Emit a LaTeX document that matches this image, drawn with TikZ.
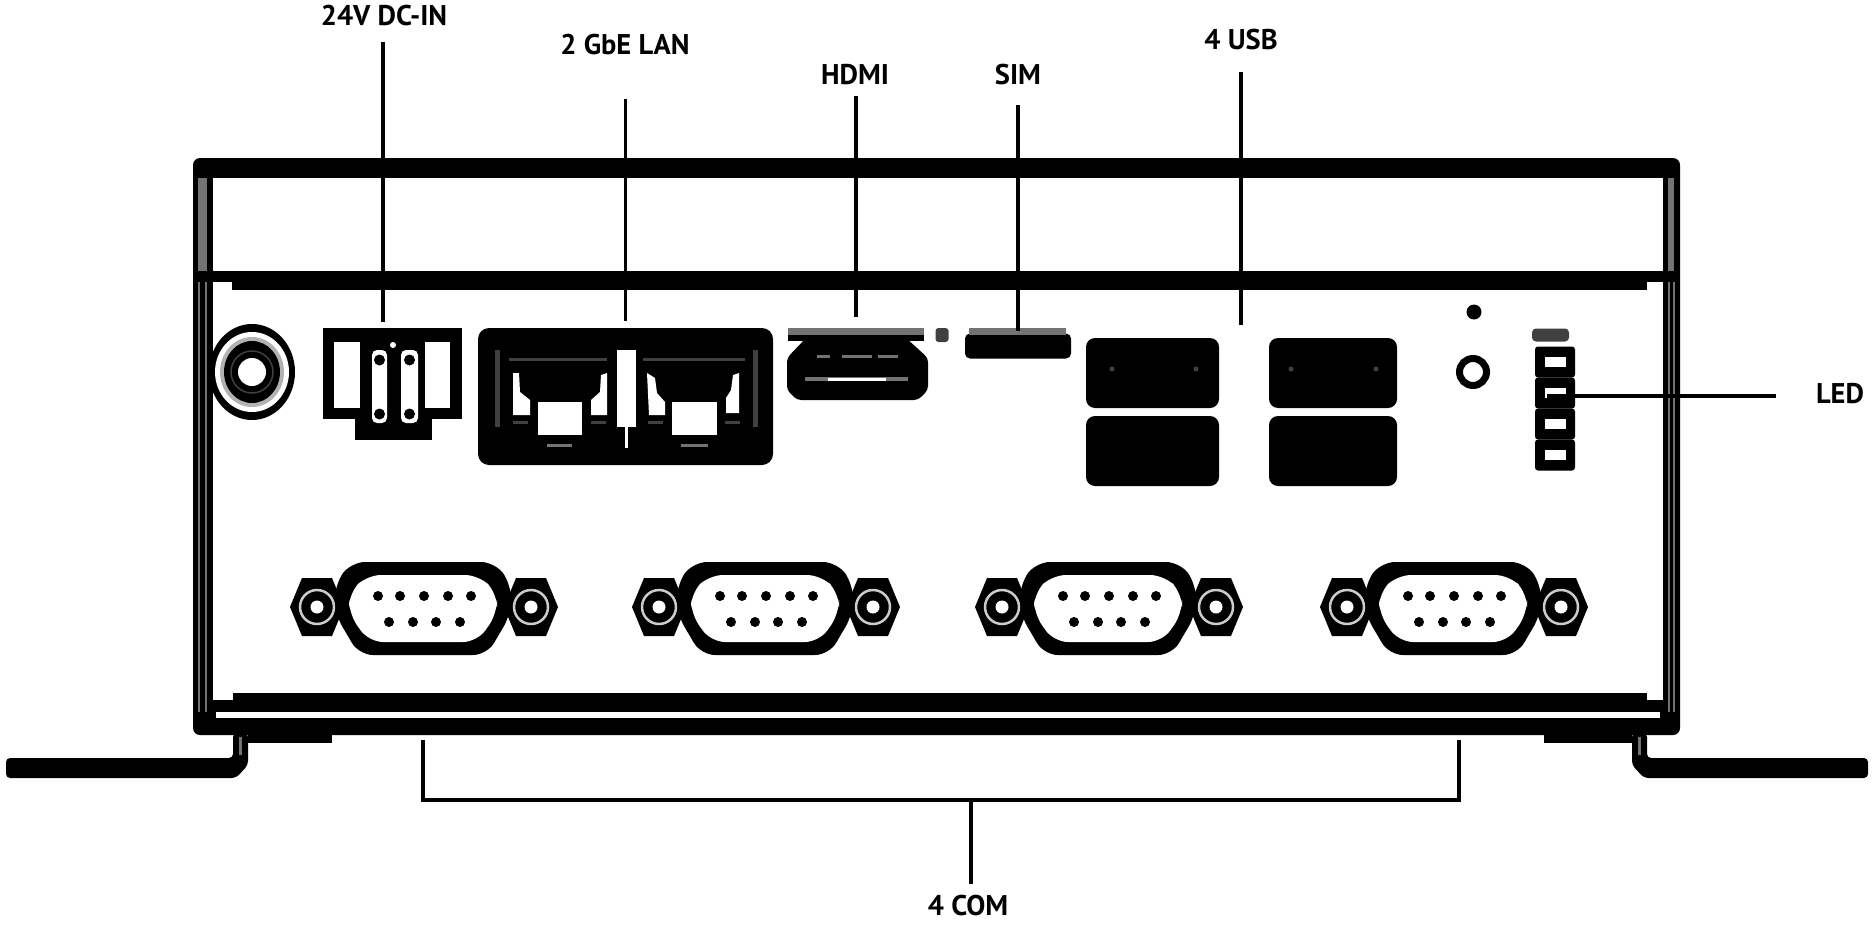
\documentclass[tikz,border=0pt]{standalone}
\usepackage{fontspec}
\setmainfont{PT Sans}
\usetikzlibrary{calc, positioning}
\definecolor{stripeGray}{gray}{0.45}
\definecolor{darkBar}{gray}{0.25}
\tikzset{
    portBlack/.style={rectangle, fill=black, inner sep=0pt, outer sep=0pt},
    portGray/.style={rectangle, fill=stripeGray, inner sep=0pt, outer sep=0pt},
    usbPort/.style={portBlack, minimum height=70pt, rounded corners=9pt},
    lblText/.style={inner sep=0pt, outer sep=0pt, font=\fontsize{28.5}{29}\selectfont\bfseries},
    leadLine/.style={line width=3.6pt, black},
}
% D-sub connector with its two nuts
\newcommand{\drawNut}[1]{
    \fill (#1) ++(-27,0) -- ++(12,-29) -- ++(30,0) -- ++(12,29) -- ++(-12,29) -- ++(-30,0) -- cycle;
    \draw[gray!40, line width=2.5pt] (#1) circle (17pt);
    \fill[white] (#1) circle (6.5pt);
}
\newcommand{\drawCom}[2]{
    \begin{scope}[shift={(#2,608)}]
        \drawNut{-106,-1}
        \drawNut{108,-1}
        \fill[rounded corners=14pt] (-72,-46) -- (72,-46) -- (88,-24) -- (88,6) -- (64,47) -- (-64,47) -- (-88,6) -- (-88,-24) -- cycle;
        \fill[white, rounded corners=14pt] (-56,-33) -- (56,-33) -- (74,-15) -- (74,6) -- (54,34) -- (-54,34) -- (-74,6) -- (-74,-15) -- cycle;
        \foreach \px in {-45,-23,1,25,48} { \fill (\px,-12) circle (5pt); }
        \foreach \px in {-34,-10,13,37} { \fill (\px,14) circle (5pt); }
        \coordinate (#1) at (0,0);
    \end{scope}
}
\newcommand{\drawLead}[3]{
    \draw[leadLine, #1] (#2) -- (#3);
}
\begin{document}
\begin{tikzpicture}[x=1pt, y=-1pt]
    \useasboundingbox (0,0) rectangle (1872,926);

    % housing
    \fill[rounded corners=7pt] (193,158) -- (1680,158) -- (1680,735) -- (193,735) -- cycle;
    \fill[white] (213,178) rectangle (1663,272);
    \fill[white] (213,282) rectangle (1663,712);
    \fill (193,271) rectangle (1680,282);
    \fill (232,272) rectangle (1647,290);
    \fill[white] (216,712) rectangle (1660,718);
    \fill (213,700) rectangle (233,712);
    \fill (1647,700) rectangle (1663,712);
    \fill (233,693) rectangle (1647,712);
    \fill[stripeGray] (198,178) rectangle (207,271);
    \fill[stripeGray] (198,282) rectangle (200,712);
    \fill[stripeGray] (205,282) rectangle (207,712);
    \fill[stripeGray] (1668,178) rectangle (1674,271);
    \fill[stripeGray] (1668,282) rectangle (1670,712);
    \fill[stripeGray] (1673,282) rectangle (1675,712);

    % feet
    \fill[rounded corners=4pt] (6,758) -- (233,758) -- (233,733) -- (248,733) -- (248,765) -- (236,778) -- (6,778) -- cycle;
    \fill (248,732) rectangle (332,743);
    \fill[rounded corners=4pt] (1868,758) -- (1647,758) -- (1647,733) -- (1632,733) -- (1632,765) -- (1644,778) -- (1868,778) -- cycle;
    \fill (1632,732) rectangle (1544,743);
    \fill[stripeGray] (239,737) rectangle (242,755);
    \fill[stripeGray] (1638,737) rectangle (1641,755);

    % earth screw
    \fill (252,372) ellipse [x radius=43pt, y radius=48pt];
    \fill[white] (252,372) ellipse [x radius=37pt, y radius=40pt];
    \fill[gray!60] (252,372) ellipse [x radius=32pt, y radius=35pt];
    \fill (252,372) ellipse [x radius=28pt, y radius=31pt];
    \draw[darkBar, line width=1.5pt] (252,372) circle (21pt);
    \fill[white] (252,372) circle (14pt);

    % power terminal
    \node[portBlack, minimum width=139pt, minimum height=91pt] (dcIn) at (392.5,373.5) {};
    \fill[white] (334,342) rectangle (360,408);
    \fill[white] (425,342) rectangle (450,408);
    \fill (355,408) rectangle (432,440);
    \fill[white, rounded corners=5pt] (372,350) rectangle (387,423);
    \fill[white, rounded corners=5pt] (401,350) rectangle (418,423);
    \foreach \px in {379.5,409.5} {
        \fill (\px,360) circle (5.5pt);
        \fill (\px,414) circle (5.5pt);
    }
    \fill[white] (393,345) circle (3pt);

    % network block
    \node[portBlack, minimum width=295pt, minimum height=137pt, rounded corners=11pt] (lan) at (625.5,396.5) {};
    \fill[white] (617,350) rectangle (636,427);
    \fill[white] (624.5,427) rectangle (627.5,448);
    \fill[white] (538,402) rectangle (582,435);
    \fill[white] (672,402) rectangle (717,435);
    \fill[white] (513,373) -- (519,373) -- (520,392) -- (530,400) -- (530,415) -- (513,415) -- cycle;
    \fill[white] (607,373) -- (601,375) -- (600,392) -- (591,400) -- (591,415) -- (607,415) -- cycle;
    \fill[white] (647,373) -- (655,378) -- (657,393) -- (665,402) -- (665,415) -- (649,415) -- cycle;
    \fill[white] (739,373) -- (733,375) -- (731,390) -- (726,398) -- (726,413) -- (739,413) -- cycle;
    \fill[darkBar] (509,358) rectangle (607,361);
    \fill[darkBar] (643,358) rectangle (745,361);
    \fill[darkBar] (495,350) rectangle (500,427);
    \fill[darkBar] (753,350) rectangle (758,427);
    \fill[stripeGray] (547,444) rectangle (572,447);
    \fill[stripeGray] (681,444) rectangle (708,447);
    \foreach \px in {513,591,648,725} { \fill[darkBar] (\px,421) rectangle ++(15,3); }

    % display port
    \node[portGray, minimum width=136pt, minimum height=7pt] (hdmi) at (856,331.5) {};
    \fill (788,335) rectangle (924,341);
    \fill[rounded corners=4pt] (806,338) -- (906,338) -- (928,358) -- (928,390) -- (918,400) -- (797,400) -- (787,390) -- (787,358) -- cycle;
    \foreach \pa/\pb in {817/830,842/872,878/898} { \fill[stripeGray] (\pa,355) rectangle (\pb,358); }
    \fill[stripeGray] (805,377) rectangle (908,381);
    \fill[white] (828,377.5) rectangle (886,380.5);
    \node[portBlack, fill=darkBar, minimum width=13pt, minimum height=14pt, rounded corners=3pt] (hdmiDot) at (942,335) {};

    % card slot
    \node[portBlack, minimum width=106pt, minimum height=25pt, rounded corners=5pt] (sim) at (1018,346) {};
    \fill[stripeGray] (969,328) rectangle (1066,335);

    % usb pairs
    \node[usbPort, minimum width=133pt] (usbA) at (1152.5,373) {};
    \node[usbPort, minimum width=133pt] (usbB) at (1152.5,451) {};
    \node[usbPort, minimum width=128pt] (usbC) at (1333,373) {};
    \node[usbPort, minimum width=128pt] (usbD) at (1333,451) {};
    \foreach \px in {1112,1196,1291,1376} { \fill[darkBar] (\px,369) circle (2.5pt); }

    % button and indicators
    \fill (1474,312) circle (7.5pt);
    \draw[line width=7pt] (1473,372) circle (13.5pt);
    \node[portBlack, fill=darkBar, minimum width=37pt, minimum height=13pt, rounded corners=4pt] (ledBar) at (1550.5,335) {};
    \foreach \py/\ledName in {362/ledA,393/ledB,424/ledC,455/ledD} {
        \node[portBlack, minimum width=40pt, minimum height=31pt, rounded corners=3pt] (\ledName) at (1555,\py) {};
        \fill[white] (1545,\py-5) rectangle (1566,\py+5);
    }

    % serial ports
    \drawCom{comA}{423}
    \drawCom{comB}{765}
    \drawCom{comC}{1108}
    \drawCom{comD}{1453}

    % labels
    \node[lblText] (lblDc) at (384,15.5) {24V DC-IN};
    \node[lblText] (lblLan) at (625,45) {2 GbE LAN};
    \node[lblText] (lblHdmi) at (855,75) {HDMI};
    \node[lblText] (lblSim) at (1018,75) {SIM};
    \node[lblText] (lblUsb) at (1241,40) {4 USB};
    \node[lblText] (lblLed) at (1840,394) {LED};
    \node[lblText] (lblCom) at (968,906) {4 COM};

    \coordinate (dcTip) at (383,322);
    \coordinate (usbTip) at (1241,325);
    \coordinate (ledTip) at (1547,396);
    \coordinate (comMid) at (971,800);
    \coordinate (comLeft) at (423,740);
    \coordinate (comRight) at (1459,740);

    \drawLead{shorten <=16.5pt}{lblDc.south -| dcTip}{dcTip}
    \drawLead{shorten <=44pt, shorten >=7pt}{lblLan.south -| lan.north}{lan.north}
    \drawLead{shorten <=11pt, shorten >=11pt}{lblHdmi.south -| hdmi.north}{hdmi.north}
    \drawLead{shorten <=20pt, shorten >=3pt}{lblSim.south}{sim.north}
    \drawLead{shorten <=22pt}{lblUsb.south}{usbTip}
    \drawLead{shorten <=40pt}{lblLed.west |- ledTip}{ledTip}
    \drawLead{shorten <=12pt}{lblCom.north -| comMid}{comMid}
    \draw[leadLine] (comLeft) -- ++(0,60) -| (comRight);
\end{tikzpicture}
\end{document}
